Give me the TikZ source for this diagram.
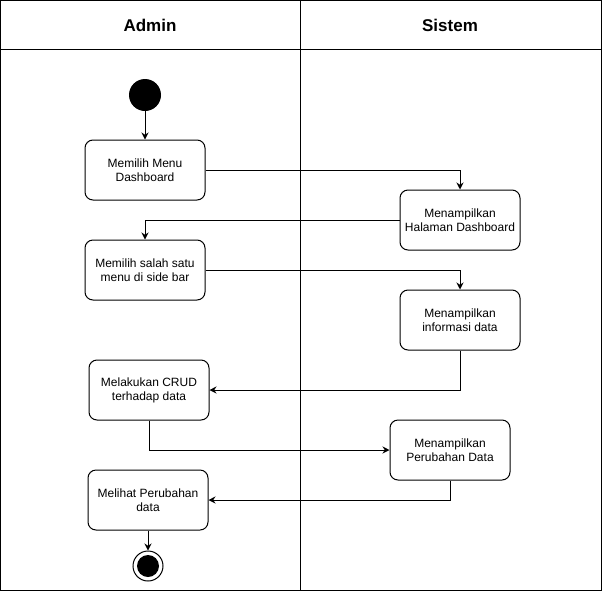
\documentclass[tikz,border=0pt]{standalone}
\usepackage{fontspec}
\setmainfont{Liberation Sans}
\usetikzlibrary{arrows.meta}
\begin{document}
\begin{tikzpicture}[x=1pt,y=-1pt,
  act/.style={draw,line width=1pt,rounded corners=8pt,minimum width=120pt,minimum height=60pt,align=center,font=\fontsize{12}{14}\selectfont,inner sep=2pt},
  flow/.style={line width=1pt,-{Stealth[length=7pt,width=7pt]}},
  lane/.style={line width=1pt},
  hdr/.style={font=\fontsize{17}{20}\selectfont\bfseries}]
\useasboundingbox (0,0) rectangle (602,592);
% swimlanes
\draw[lane] (0.5,0.5) rectangle (601,590);
\draw[lane] (0.5,49) -- (601,49);
\draw[lane] (300.5,0.5) -- (300.5,590);
\node[hdr] (hA) at (150,25) {Admin};
\node[hdr] (hS) at (450,25) {Sistem};
% nodes
\node[circle,fill=black,minimum size=32pt,inner sep=0] (start) at (145,95) {};
\node[act] (b1) at (145,170) {Memilih Menu\\Dashboard};
\node[act] (b2) at (460,220) {Menampilkan\\Halaman Dashboard};
\node[act] (b3) at (145,270) {Memilih salah satu\\menu di side bar};
\node[act] (b4) at (460,320) {Menampilkan\\informasi data};
\node[act] (b5) at (149,390) {Melakukan CRUD\\terhadap data};
\node[act] (b6) at (450,450) {Menampilkan\\Perubahan Data};
\node[act] (b7) at (148,500) {Melihat Perubahan\\data};
\node[circle,draw,line width=1pt,minimum size=30pt,inner sep=0] (end) at (148,566) {};
\node[circle,fill=black,minimum size=22pt,inner sep=0] (endin) at (end.center) {};
% connectors
\draw[flow] (start) -- (b1);
\draw[flow] (b1.east) -| (b2.north);
\draw[flow] (b2.west) -| (b3.north);
\draw[flow] (b3.east) -| (b4.north);
\draw[flow] (b4.south) |- (b5.east);
\draw[flow] (b5.south) |- (b6.west);
\draw[flow] (b6.south) |- (b7.east);
\draw[flow] (b7.south) -- (end.north);
\end{tikzpicture}
\end{document}
